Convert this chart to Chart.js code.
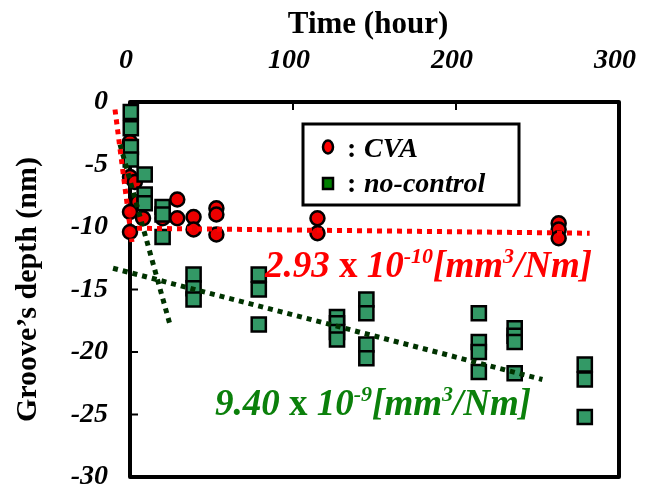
<!DOCTYPE html>
<html><head><meta charset="utf-8">
<script src="https://cdn.jsdelivr.net/npm/chart.js@4/dist/chart.umd.min.js"></script>
<style>html,body{margin:0;padding:0;background:#fff;overflow:hidden}#wrap{width:648px;height:486px;overflow:hidden}canvas{display:block}</style>
</head><body><div id="wrap"><canvas id="c" width="648" height="500"></canvas></div>
<script>
// ---- data ----
const xTickValues = [0, 100, 200, 300];
const cvaTime  = [0, 0, 3, 5, 0, 8, 0, 20, 29, 29, 39, 39, 53, 53, 53, 115, 115, 263, 263, 263];
const cvaDepth = [-3.2, -6.0, -6.4, -8.0, -8.8, -9.3, -10.4, -9.3, -7.8, -9.3, -9.2, -10.2, -8.5, -9.0, -10.6, -9.3, -10.5, -9.7, -10.2, -10.9];
const ncTime  = [0.5, 0.5, 0.5, 0.5, 9, 9, 9, 20, 20, 20, 39, 39, 39, 79, 79, 79, 127, 127, 127, 127, 145, 145, 145, 145, 214, 214, 214, 214, 236, 236, 236, 236, 279, 279, 279];
const ncDepth = [-0.8, -2.1, -3.6, -4.6, -5.8, -7.4, -8.1, -8.4, -9.0, -10.8, -13.8, -14.9, -15.8, -13.8, -15.0, -17.8, -17.2, -17.7, -18.4, -19.0, -15.8, -16.9, -19.4, -20.5, -16.9, -19.2, -20.0, -21.6, -18.1, -18.7, -19.2, -21.7, -21.0, -22.2, -25.2];
const cvaFitTime = [4.3, 282];   const cvaFitDepth = [-10.1, -10.5];
const cvaEarlyTime = [-9.2, 1.2]; const cvaEarlyDepth = [-0.6, -11.2];
const ncFitTime = [-10.4, 253];  const ncFitDepth = [-13.3, -22.2];
const ncEarlyTime = [-6.1, 24.5]; const ncEarlyDepth = [-3.4, -17.8];
const cvaRate = ['2.93', '-10'];
const ncRate = ['9.40', '-9'];

const pts = (xs, ys) => xs.map((x, i) => ({x, y: ys[i]}));
const SERIF = '"Liberation Serif","Times New Roman",serif';

function fitLine(xs, ys, color) {
  return {type: 'scatter', data: pts(xs, ys), showLine: true, borderColor: color, borderWidth: 5,
    borderDash: [5, 5], borderCapStyle: 'butt', pointRadius: 0, pointHoverRadius: 0, clip: false, order: 0, fill: false};
}

function drawRate(ctx, parts, x, y, color, size) {
  ctx.save();
  ctx.fillStyle = color; ctx.textBaseline = 'alphabetic'; ctx.textAlign = 'left';
  const sup = Math.round(size * 0.6), rise = Math.round(size * 0.38);
  const segs = [
    [parts[0] + ' ', 'italic bold ' + size + 'px ' + SERIF, 0],
    ['x ', 'bold ' + size + 'px ' + SERIF, 0],
    ['10', 'italic bold ' + size + 'px ' + SERIF, 0],
    [parts[1], 'italic bold ' + sup + 'px ' + SERIF, rise],
    ['[mm', 'italic bold ' + size + 'px ' + SERIF, 0],
    ['3', 'italic bold ' + sup + 'px ' + SERIF, rise],
    ['/Nm]', 'italic bold ' + size + 'px ' + SERIF, 0]
  ];
  let cx = x;
  for (const [t, f, r] of segs) { ctx.font = f; ctx.fillText(t, cx, y - r); cx += ctx.measureText(t).width; }
  ctx.restore();
}

const deco = {
  id: 'deco',
  beforeDatasetsDraw(chart) {
    const {ctx, chartArea: a} = chart;
    const xs = chart.scales.x, ys = chart.scales.y;
    ctx.save();
    ctx.strokeStyle = '#000'; ctx.lineJoin = 'round';
    ctx.lineWidth = 4;
    ctx.strokeRect(a.left, a.top, a.right - a.left, a.bottom - a.top);
    ctx.lineWidth = 2;
    ctx.beginPath();
    for (let v = -25; v <= -5; v += 5) { const p = ys.getPixelForValue(v); ctx.moveTo(a.left, p); ctx.lineTo(a.left + 8, p); }
    for (const v of [100, 200]) { const p = xs.getPixelForValue(v); ctx.moveTo(p, a.top); ctx.lineTo(p, a.top + 8); }
    ctx.stroke();
    ctx.restore();
  },
  afterDatasetsDraw(chart) {
    const {ctx} = chart;
    ctx.save();
    // x axis title
    ctx.fillStyle = '#000'; ctx.font = 'bold 31px ' + SERIF; ctx.textAlign = 'center'; ctx.textBaseline = 'alphabetic';
    ctx.fillText('Time (hour)', 368, 33);
    // legend box
    ctx.lineWidth = 3; ctx.strokeStyle = '#000';
    ctx.strokeRect(303, 124, 216, 81);
    ctx.beginPath(); ctx.ellipse(328, 147, 5, 6.5, 0, 0, Math.PI * 2);
    ctx.fillStyle = '#ff0000'; ctx.fill(); ctx.lineWidth = 2.5; ctx.stroke();
    ctx.fillStyle = '#008000'; ctx.fillRect(323, 178, 10, 11); ctx.strokeRect(323, 178, 10, 11);
    ctx.fillStyle = '#000'; ctx.textAlign = 'left';
    ctx.font = 'bold 28px ' + SERIF; ctx.fillText(':', 347, 157);
    ctx.font = 'italic bold 28px ' + SERIF; ctx.fillText('CVA', 364, 157);
    ctx.font = 'bold 28px ' + SERIF; ctx.fillText(':', 347, 192);
    ctx.font = 'italic bold 28px ' + SERIF; ctx.fillText('no-control', 364, 192);
    ctx.restore();
    drawRate(ctx, cvaRate, 265, 277, '#ff0000', 37);
    drawRate(ctx, ncRate, 215, 415, '#0b800b', 37);
  }
};

function noEdgePad(s) { s.paddingTop = 0; s.paddingBottom = 0; s.paddingLeft = 0; s.paddingRight = 0; }

new Chart(document.getElementById('c'), {
  type: 'scatter',
  data: {datasets: [
    fitLine(cvaEarlyTime, cvaEarlyDepth, '#ff0000'),
    fitLine(cvaFitTime, cvaFitDepth, '#ff0000'),
    fitLine(ncEarlyTime, ncEarlyDepth, '#003300'),
    fitLine(ncFitTime, ncFitDepth, '#003300'),
    {label: 'no-control', data: pts(ncTime, ncDepth), pointStyle: 'rect', pointRadius: 10, pointHoverRadius: 10,
      backgroundColor: '#339966', borderColor: '#000', borderWidth: 2.5, order: 1, clip: false},
    {label: 'CVA', data: pts(cvaTime, cvaDepth), pointStyle: 'circle', pointRadius: 7, pointHoverRadius: 7,
      backgroundColor: '#ee0000', borderColor: '#000', borderWidth: 2.5, order: 2, clip: false}
  ]},
  options: {
    responsive: false, animation: false,
    layout: {padding: {left: 0, right: 29, top: 0, bottom: 23}},
    plugins: {legend: {display: false}, tooltip: {enabled: false}},
    scales: {
      x: {type: 'linear', position: 'top', min: 0, max: 300,
        afterBuildTicks(s) { s.ticks = xTickValues.map(v => ({value: v})); },
        ticks: {color: '#000', padding: 24, labelOffset: -4, maxRotation: 0, font: {family: SERIF, size: 28, weight: 'bold', style: 'italic'}},
        grid: {display: false, drawTicks: false}, border: {display: false},
        afterFit(s) { s.height = 102; noEdgePad(s); }},
      y: {type: 'linear', min: -30, max: 0,
        ticks: {stepSize: 5, color: '#000', padding: 22, font: {family: SERIF, size: 28, weight: 'bold', style: 'italic'}},
        title: {display: true, text: 'Groove’s depth (nm)', color: '#000', padding: {top: 10, bottom: 0}, font: {family: SERIF, size: 30, weight: 'bold'}},
        grid: {display: false, drawTicks: false}, border: {display: false},
        afterFit(s) { s.width = 130; noEdgePad(s); }}
    }
  },
  plugins: [deco]
});
</script></body></html>
